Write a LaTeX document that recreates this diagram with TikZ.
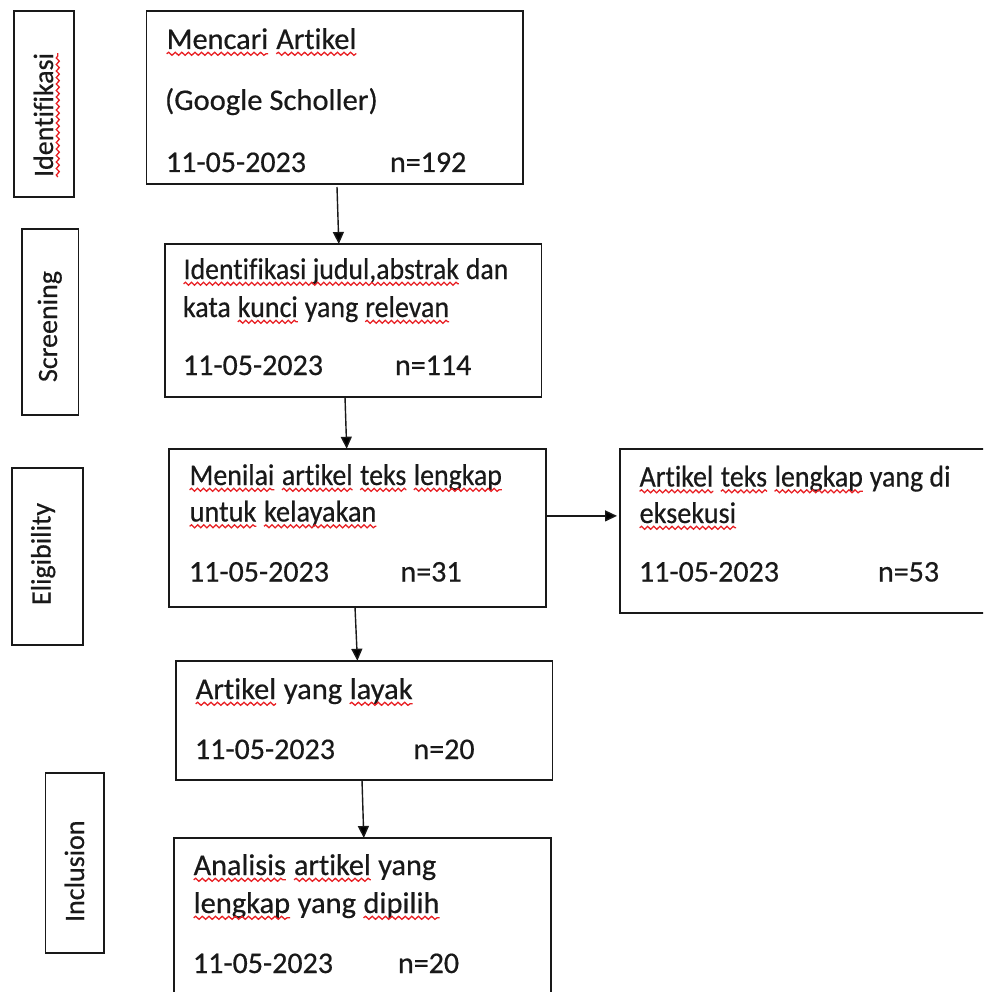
\documentclass[tikz,border=0pt]{standalone}
\usepackage{graphicx}
\usepackage{fontspec}
\setmainfont{Carlito}[RawFeature={-liga;-clig;-dlig;-calt;-rlig}, FakeBold=0.5]
\usetikzlibrary{arrows.meta,decorations.pathmorphing}
\definecolor{sqred}{RGB}{232,32,36}
\definecolor{ink}{RGB}{25,25,25}
\tikzset{
  sqline/.style={draw=sqred, line width=1.3pt, decorate,
    decoration={snake, amplitude=1.5pt, segment length=6.5pt}},
}
\newcommand\sq[1]{\tikz[baseline=(w.base)]{\node[inner sep=0pt,outer sep=0pt,anchor=base west](w) at (0,0){#1};\draw[sqline] ([yshift=-4.8pt]w.base west) -- ([yshift=-4.8pt]w.base east);}}
\newcommand\hsqz[2]{\scalebox{#1}[1]{#2}}
\begin{document}
\begin{tikzpicture}[x=1pt,y=-1pt,
  box/.style={draw=ink, line width=1.7pt, inner sep=0pt, outer sep=0pt},
  txt/.style={anchor=base west, inner sep=0pt, outer sep=0pt, text=ink, font=\fontsize{30}{36}\selectfont},
  lab/.style={anchor=base west, inner sep=0pt, outer sep=0pt, rotate=90, text=ink, font=\fontsize{28}{34}\selectfont},
  arr/.style={draw=ink, line width=1.4pt, -{Triangle[length=12pt,width=11pt]}}]
\clip (0,0) rectangle (983,992);
\fill[white] (0,0) rectangle (983,992);

% stage label boxes
\node[box, minimum width=60.2pt, minimum height=185.7pt] (L1) at (43.9,103.9) {};
\node[box, minimum width=56.6pt, minimum height=186pt] (L2) at (50.3,322) {};
\node[box, minimum width=71.2pt, minimum height=177pt] (L3) at (47.4,556.5) {};
\node[box, minimum width=58.6pt, minimum height=180pt] (L4) at (74.7,863) {};
\node[lab] (L1t) at (53,177) {Identifikasi};
\draw[sqline] ([xshift=4.8pt]L1t.base west) -- ([xshift=4.8pt]L1t.base east);
\node[lab] (L2t) at (57,382) {Screening};
\node[lab] (L3t) at (50.5,605) {Eligibility};
\node[lab] (L4t) at (84,922) {Inclusion};

% main boxes
\node[box, minimum width=376.4pt, minimum height=173pt] (b1) at (334.8,97.5) {};
\node[box, minimum width=376.4pt, minimum height=153pt] (b2) at (353.2,320.5) {};
\node[box, minimum width=377pt, minimum height=158.3pt] (b3) at (357.5,527.9) {};
\node[box, minimum width=380pt, minimum height=163.7pt] (b4) at (810,530.9) {};
\node[box, minimum width=376.5pt, minimum height=119.3pt] (b5) at (364.2,720.4) {};
\node[box, minimum width=376.7pt, minimum height=172pt] (b6) at (362.4,924) {};

% texts
\node[txt] (t1a) at (166,49) {\hsqz{1.01}{\sq{Mencari} \sq{Artikel}}};
\node[txt] (t1b) at (165,110) {\hsqz{1.02}{(Google Scholler)}};
\node[txt] (t1c) at (166,172) {11-05-2023};
\node[txt] (t1d) at (390,172) {n=192};

\node[txt] (t2a) at (183,279) {\hsqz{0.925}{\sq{Identifikasi judul,abstrak} dan}};
\node[txt] (t2b) at (183,317) {\hsqz{0.933}{kata \sq{kunci} yang \sq{relevan}}};
\node[txt] (t2c) at (183,375) {11-05-2023};
\node[txt] (t2d) at (395,375) {n=114};

\node[txt] (t3a) at (189,485) {\hsqz{0.928}{\sq{Menilai} \sq{artikel} \sq{teks} \sq{lengkap}}};
\node[txt] (t3b) at (189,521.5) {\hsqz{0.944}{\sq{untuk} \sq{kelayakan}}};
\node[txt] (t3c) at (189,581.5) {11-05-2023};
\node[txt] (t3d) at (400.5,581.5) {n=31};

\node[txt] (t4a) at (639,486.5) {\hsqz{0.93}{\sq{Artikel} \sq{teks} \sq{lengkap} yang di}};
\node[txt] (t4b) at (639,523) {\hsqz{0.94}{\sq{eksekusi}}};
\node[txt] (t4c) at (639,581.5) {11-05-2023};
\node[txt] (t4d) at (878,581.5) {n=53};

\node[txt] (t5a) at (195,699) {\hsqz{1.017}{\sq{Artikel} yang \sq{layak}}};
\node[txt] (t5c) at (195,759) {11-05-2023};
\node[txt] (t5d) at (413.5,759) {n=20};

\node[txt] (t6a) at (193,875) {\hsqz{1.007}{\sq{Analisis} \sq{artikel} yang}};
\node[txt] (t6b) at (193,913) {\hsqz{1.016}{\sq{lengkap} yang \sq{dipilih}}};
\node[txt] (t6c) at (193,973) {11-05-2023};
\node[txt] (t6d) at (398,973) {n=20};

% connectors
\draw[arr] ([xshift=2.2pt,yshift=-3pt]b1.south) -- ([xshift=-14.4pt]b2.north);
\draw[arr] ([xshift=-8.2pt]b2.south) -- ([xshift=-10.8pt]b3.north);
\draw[arr] ([xshift=-2.5pt]b3.south) -- ([xshift=-6.8pt]b5.north);
\draw[arr] ([xshift=-2.2pt]b5.south) -- ([xshift=1.4pt]b6.north);
\draw[arr] ([yshift=12pt]b3.east) -- ([xshift=-3pt,yshift=15pt]b4.west);
\end{tikzpicture}
\end{document}
